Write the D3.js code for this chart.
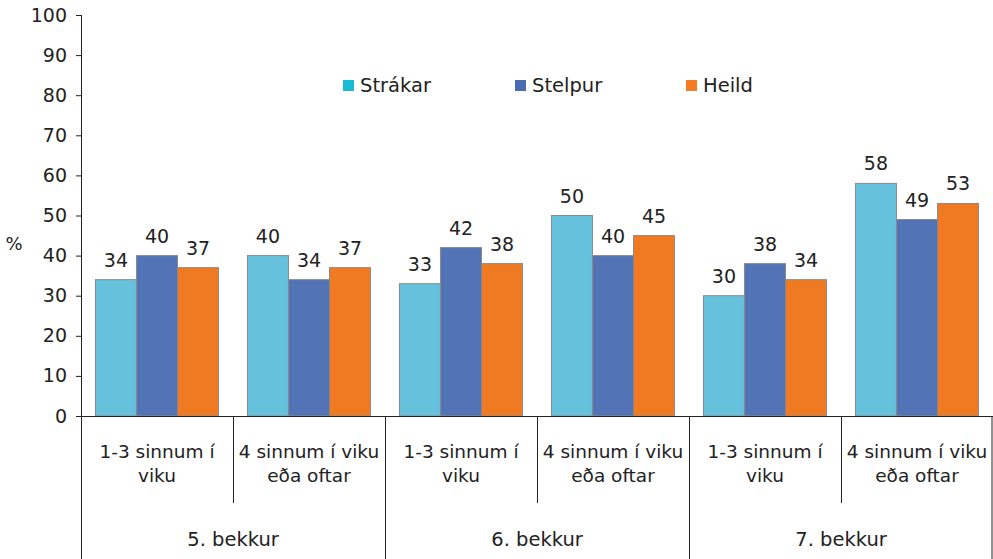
<!DOCTYPE html>
<html>
<head>
<meta charset="utf-8">
<script src="https://cdn.jsdelivr.net/npm/d3@7"></script>
<style>
  html, body { margin: 0; padding: 0; background: #fff; }
  svg text { font-family: "DejaVu Sans", Verdana, sans-serif; fill: #222; }
</style>
</head>
<body>
<svg id="chart" width="993" height="559"></svg>
<script>
// Tíðni eftir bekk og kyni (%)
const groups = ["5. bekkur", "6. bekkur", "7. bekkur"];
const frequencies = [["1-3 sinnum í", "viku"], ["4 sinnum í viku", "eða oftar"]];
const seriesNames = ["Strákar", "Stelpur", "Heild"];
const strakar = [34, 40, 33, 50, 30, 58];
const stelpur = [40, 34, 42, 40, 38, 49];
const heild   = [37, 37, 38, 45, 34, 53];
const yTicks = [0, 10, 20, 30, 40, 50, 60, 70, 80, 90, 100];

const barColors = ["#66c2dc", "#5273b5", "#f07a22"];
const legendColors = ["#17bbd4", "#4a6cb5", "#f47b20"];

const svg = d3.select("#chart");
const plotLeft = 81, plotRight = 993, plotTop = 15, plotBase = 416;

// one slot per (bekkur, frequency) pair
const slots = [];
groups.forEach((g, gi) => frequencies.forEach((f, fi) => slots.push({ g, gi, f, fi, key: gi + "-" + fi })));
const values = [strakar, stelpur, heild];

const x0 = d3.scaleBand().domain(slots.map(s => s.key)).range([plotLeft, plotRight]).paddingInner(0.19).paddingOuter(0.095);
const slotScale = d3.scaleBand().domain(slots.map(s => s.key)).range([plotLeft, plotRight]);
const x1 = d3.scaleBand().domain(seriesNames).range([0, x0.bandwidth()]);
const y = d3.scaleLinear().domain([0, 100]).range([plotBase, plotTop]);

// y axis
const yAxis = d3.axisLeft(y).tickValues(yTicks).tickSize(5).tickSizeOuter(0).tickPadding(9);
const ya = svg.append("g").attr("transform", `translate(${plotLeft},0)`).call(yAxis);
ya.select(".domain").remove();
ya.selectAll(".tick line").attr("stroke", "#222");
ya.selectAll(".tick text").style("font-size", "19px").attr("fill", "#222")
  .style("font-family", '"DejaVu Sans", Verdana, sans-serif');
svg.append("line").attr("x1", plotLeft + 0.5).attr("x2", plotLeft + 0.5).attr("y1", y(100)).attr("y2", 559).attr("stroke", "#222");

svg.append("text").attr("x", 14).attr("y", 250).attr("text-anchor", "middle").style("font-size", "18px").text("%");

// bars
slots.forEach((s, si) => {
  const g = svg.append("g").attr("transform", `translate(${x0(s.key)},0)`);
  seriesNames.forEach((name, ni) => {
    const v = values[ni][si];
    g.append("rect")
      .attr("x", x1(name)).attr("y", y(v))
      .attr("width", x1.bandwidth()).attr("height", plotBase - y(v))
      .attr("fill", barColors[ni]).attr("stroke", "#8a8a8a").attr("stroke-width", 1);
    g.append("text")
      .attr("x", x1(name) + x1.bandwidth() / 2).attr("y", y(v) - 13)
      .attr("text-anchor", "middle").style("font-size", "19px").text(v);
  });
});

// baseline
svg.append("line").attr("x1", plotLeft - 5).attr("x2", plotRight).attr("y1", plotBase + 0.5).attr("y2", plotBase + 0.5).attr("stroke", "#222");

// category separators and labels
slots.forEach((s, si) => {
  const xs = slotScale(s.key);
  const w = slotScale.bandwidth();
  if (si > 0) {
    const full = s.fi === 0;
    svg.append("line").attr("x1", xs + 0.5).attr("x2", xs + 0.5)
      .attr("y1", plotBase).attr("y2", full ? 559 : 503).attr("stroke", "#222");
  }
  const t = svg.append("text").attr("text-anchor", "middle").style("font-size", "18.5px");
  s.f.forEach((line, li) => {
    t.append("tspan").attr("x", xs + w / 2).attr("y", 458 + li * 24).text(line);
  });
});
svg.append("line").attr("x1", plotRight - 1).attr("x2", plotRight - 1).attr("y1", plotBase).attr("y2", 559).attr("stroke", "#222");

groups.forEach((g, gi) => {
  const xs = slotScale(gi + "-0");
  const w = slotScale.bandwidth() * 2;
  svg.append("text").attr("x", xs + w / 2).attr("y", 546).attr("text-anchor", "middle").style("font-size", "19.5px").text(g);
});

// legend
const legendX = [343, 515, 686];
seriesNames.forEach((name, i) => {
  svg.append("rect").attr("x", legendX[i]).attr("y", 80).attr("width", 11).attr("height", 11).attr("fill", legendColors[i]);
  svg.append("text").attr("x", legendX[i] + 17).attr("y", 92).style("font-size", "19.5px").text(name);
});
</script>
</body>
</html>
